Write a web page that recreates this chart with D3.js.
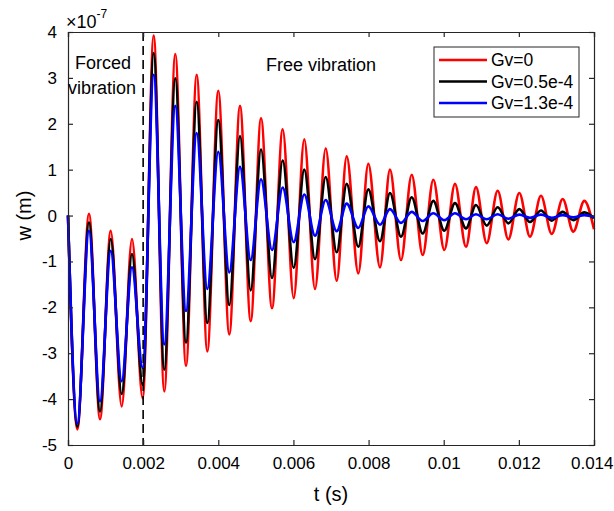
<!DOCTYPE html>
<html>
<head>
<meta charset="utf-8">
<style>
  body { margin: 0; background: #fff; }
  svg text { font-family: "Liberation Sans", Arial, Helvetica, sans-serif; fill: #000; }
</style>
</head>
<body>
<svg id="chart"></svg>
<script src="https://d3js.org/d3.v7.min.js"></script>
<script>
// times of the extrema (s)
var tPts = [0, 0.000248, 0.000559, 0.000852, 0.001137, 0.001429, 0.001703, 0.001988,
  0.002281, 0.002563, 0.002856, 0.003141, 0.003425, 0.003708, 0.004000, 0.004293,
  0.004578, 0.004863, 0.005137, 0.005430, 0.005714, 0.006007, 0.006289, 0.006574,
  0.006859, 0.007152, 0.007418, 0.007727, 0.007993, 0.008304, 0.008570, 0.008863,
  0.009148, 0.009441, 0.009723, 0.010016, 0.010300, 0.010593, 0.010859, 0.011144,
  0.011437, 0.011719, 0.012012, 0.012297, 0.012589, 0.012874, 0.013167, 0.013449,
  0.013742, 0.014]

// w values (x 1e-7 m) at those times
var wGv0 = [0, -4.66, 0.04, -4.44, -0.33, -4.16, -0.51, -3.98,
  3.92, -3.83, 3.52, -3.28, 3.07, -2.96, 2.72, -2.59,
  2.39, -2.30, 2.12, -2.02, 1.88, -1.80, 1.66, -1.60,
  1.46, -1.42, 1.29, -1.26, 1.13, -1.13, 1.00, -0.97,
  0.89, -0.86, 0.78, -0.75, 0.69, -0.68, 0.62, -0.60,
  0.54, -0.52, 0.49, -0.46, 0.43, -0.40, 0.36, -0.35,
  0.32, -0.30]

var wGv05 = [0, -4.60, -0.15, -4.27, -0.51, -3.89, -0.84, -3.69,
  3.54, -3.36, 2.99, -2.77, 2.48, -2.34, 2.08, -1.95,
  1.73, -1.63, 1.44, -1.36, 1.20, -1.14, 1.00, -0.95,
  0.84, -0.80, 0.69, -0.68, 0.57, -0.56, 0.49, -0.46,
  0.40, -0.39, 0.32, -0.33, 0.27, -0.28, 0.23, -0.22,
  0.18, -0.17, 0.14, -0.14, 0.11, -0.11, 0.08, -0.10,
  0.07, -0.06]

var wGv13 = [0, -4.53, -0.33, -4.05, -0.77, -3.61, -1.13, -3.32,
  3.07, -2.81, 2.39, -2.08, 1.80, -1.60, 1.39, -1.24,
  1.06, -0.97, 0.79, -0.75, 0.61, -0.58, 0.46, -0.44,
  0.34, -0.34, 0.26, -0.27, 0.20, -0.20, 0.14, -0.16,
  0.08, -0.12, 0.05, -0.10, 0.05, -0.08, 0.03, -0.08,
  0.03, -0.07, 0.02, -0.05, 0.02, -0.05, 0.01, -0.04,
  0.01, -0.03]

var seriesNames = ["Gv=0", "Gv=0.5e-4", "Gv=1.3e-4"]
var seriesColors = ["#ff0000", "#000000", "#0000ff"]
var xTicks = [0, 0.002, 0.004, 0.006, 0.008, 0.01, 0.012, 0.014]
var yTicks = [-5, -4, -3, -2, -1, 0, 1, 2, 3, 4]
var tSwitch = 0.002

var width = 614, height = 511
var svg = d3.select('#chart').attr('width', width).attr('height', height)

var x = d3.scaleLinear().domain([0, 0.014]).range([68, 594])
var y = d3.scaleLinear().domain([-5, 4]).range([445, 32])

var fs = 17

// curves
var allSeries = [wGv0, wGv05, wGv13]
var line = d3.line()
  .x(function(d) { return x(d.t) })
  .y(function(d) { return y(d.w) })
  .curve(d3.curveMonotoneX)

allSeries.forEach(function(vals, i) {
  var pts = tPts.map(function(t, j) { return { t: t, w: vals[j] } })
  svg.append('path')
    .datum(pts)
    .attr('d', line)
    .attr('fill', 'none')
    .attr('stroke', seriesColors[i])
    .attr('stroke-width', 2.6)
    .attr('stroke-linejoin', 'round')
})

// dashed separator
svg.append('line')
  .attr('x1', x(tSwitch)).attr('x2', x(tSwitch))
  .attr('y1', y(4)).attr('y2', y(-5))
  .attr('stroke', '#000').attr('stroke-width', 1.6)
  .attr('stroke-dasharray', '9,5')

// axes, matlab style ticks inside on all sides
var xFmt = d3.format('~g')
var yFmt = function(d) { return String(d) }
var gx = svg.append('g').attr('transform', 'translate(0,' + y(-5) + ')')
  .call(d3.axisBottom(x).tickValues(xTicks).tickSize(-5).tickPadding(12).tickFormat(xFmt))
var gxt = svg.append('g').attr('transform', 'translate(0,' + y(4) + ')')
  .call(d3.axisTop(x).tickValues(xTicks).tickSize(-5).tickFormat(''))
var gy = svg.append('g').attr('transform', 'translate(' + x(0) + ',0)')
  .call(d3.axisLeft(y).tickValues(yTicks).tickSize(-5).tickPadding(11).tickFormat(yFmt))
var gyr = svg.append('g').attr('transform', 'translate(' + x(0.014) + ',0)')
  .call(d3.axisRight(y).tickValues(yTicks).tickSize(-5).tickFormat(''))

;[gx, gxt, gy, gyr].forEach(function(g) {
  g.selectAll('path.domain').attr('stroke', '#262626').attr('stroke-width', 1.2)
  g.selectAll('.tick line').attr('stroke', '#262626').attr('stroke-width', 1.2)
  g.selectAll('text').style('font-size', fs + 'px').style('font-family', '"Liberation Sans", Arial, sans-serif').attr('fill', '#000')
})
// keep the last x label inside the window
gx.selectAll('.tick text').filter(function(d) { return d === 0.014 })
  .attr('text-anchor', 'end').attr('dx', 19)

// exponent label
var ex = svg.append('text').attr('x', 66).attr('y', 28).style('font-size', '18px')
ex.append('tspan').text('\u00d710')
ex.append('tspan').attr('dy', -10).style('font-size', '12px').text('-7')

// axis titles
svg.append('text')
  .attr('transform', 'translate(31,' + y(0) + ') rotate(-90)')
  .attr('text-anchor', 'middle')
  .style('font-size', '20px')
  .text('w (m)')
svg.append('text')
  .attr('x', x(0.007)).attr('y', 501)
  .attr('text-anchor', 'middle')
  .style('font-size', '20px')
  .text('t (s)')

// annotations
svg.append('text').attr('x', 103).attr('y', 69).attr('text-anchor', 'middle')
  .style('font-size', '18px').text('Forced')
svg.append('text').attr('x', 102).attr('y', 94).attr('text-anchor', 'middle')
  .style('font-size', '18px').text('vibration')
svg.append('text').attr('x', 321).attr('y', 71).attr('text-anchor', 'middle')
  .style('font-size', '18px').text('Free vibration')

// legend
var lg = svg.append('g').attr('transform', 'translate(434,47)')
lg.append('rect').attr('width', 145).attr('height', 70)
  .attr('fill', '#fff').attr('stroke', '#262626').attr('stroke-width', 1)
seriesNames.forEach(function(name, i) {
  var yy = 13 + i * 21.5
  lg.append('line').attr('x1', 5).attr('x2', 53).attr('y1', yy).attr('y2', yy)
    .attr('stroke', seriesColors[i]).attr('stroke-width', 2.6)
  lg.append('text').attr('x', 57).attr('y', yy + 6)
    .style('font-size', '17.5px').text(name)
})
</script>
</body>
</html>
